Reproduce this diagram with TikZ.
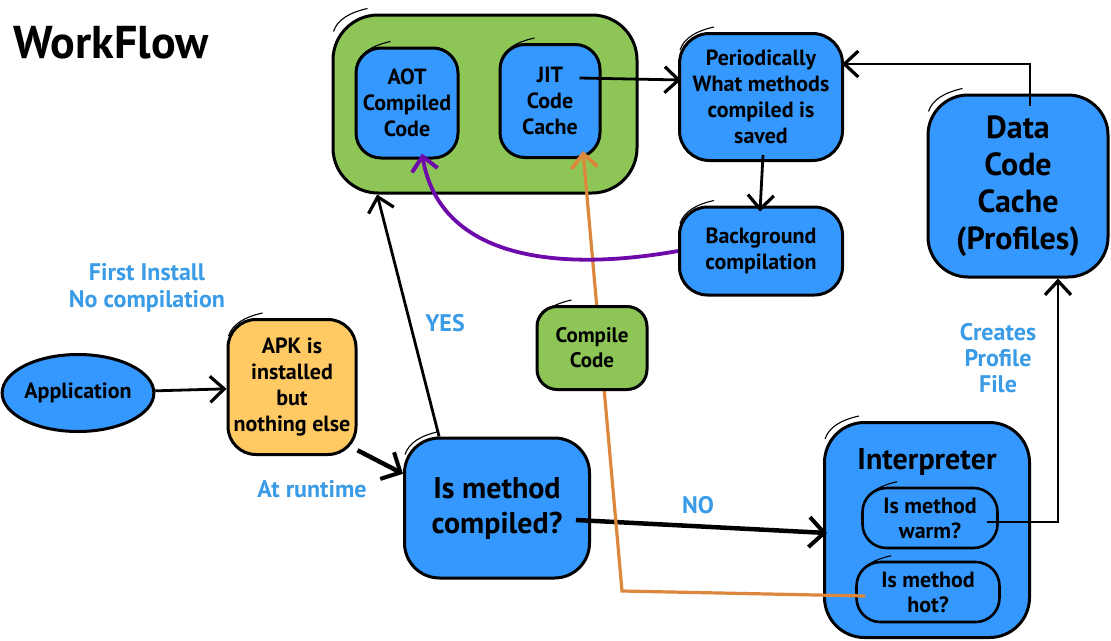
\documentclass[tikz,border=0pt]{standalone}
\usepackage{fontspec}
\setmainfont{PT Sans}
\usetikzlibrary{arrows.meta,calc,shapes.geometric}
\definecolor{boxblue}{RGB}{52,152,255}
\definecolor{boxgreen}{RGB}{141,198,86}
\definecolor{boxyellow}{RGB}{255,201,100}
\definecolor{lblblue}{RGB}{58,155,230}
\definecolor{purp}{RGB}{110,10,170}
\definecolor{orng}{RGB}{220,135,60}
\newcommand\sktick[1]{\draw[line width=1.1pt] ($(#1.north west)+(2,18)$) .. controls ($(#1.north west)+(6,6)$) and ($(#1.north west)+(18,-1)$) .. ($(#1.north west)+(36,-5)$);}
\begin{document}
\begin{tikzpicture}[x=1pt,y=-1pt,
  box/.style={draw=black, line width=3pt, fill=boxblue, rounded corners=#1, align=center,
    font=\bfseries\fontsize{22}{26}\selectfont, inner sep=0pt},
  box/.default=25pt,
  lbl/.style={text=lblblue, align=center, font=\bfseries\fontsize{24}{27}\selectfont},
  arr/.style={draw, line width=2.8pt, -{Straight Barb[length=14pt,width=26pt,line width=3.2pt]}},
  thickarr/.style={draw, line width=4.5pt, -{Straight Barb[length=15pt,width=30pt,line width=4pt]}}
]
\useasboundingbox (0,0) rectangle (1111,640);
\fill[white] (0,0) rectangle (1111,640);

\node[anchor=west, font=\bfseries\fontsize{46}{50}\selectfont] (title) at (10,43) {WorkFlow};

% containers
\node[box=45pt, fill=boxgreen, minimum width=304pt, minimum height=178pt] (green) at (485,104) {};
\node[box, minimum width=102pt, minimum height=110pt] (aot) at (407,103) {AOT\\Compiled\\Code};
\node[box, minimum width=100pt, minimum height=113pt] (jit) at (550,101) {JIT\\Code\\Cache};
\node[box=30pt, minimum width=163pt, minimum height=127pt] (period) at (761,97) {Periodically\\What methods\\compiled is\\saved};
\node[box=28pt, minimum width=163pt, minimum height=88pt] (bg) at (761,251) {Background\\compilation};
\node[box=40pt, minimum width=180pt, minimum height=182pt, font=\bfseries\fontsize{32}{37}\selectfont] (data) at (1018,186) {Data\\Code\\Cache\\(Profiles)};
\node[draw=black, line width=3pt, fill=boxblue, ellipse, minimum width=147pt, minimum height=77pt, inner sep=0pt, font=\bfseries\fontsize{22}{26}\selectfont] (app) at (78,393) {Application};
\node[box=28pt, fill=boxyellow, minimum width=128pt, minimum height=135pt] (apk) at (292,387) {APK is\\installed\\but\\nothing else};
\node[box=35pt, minimum width=185pt, minimum height=140pt, font=\bfseries\fontsize{30}{35}\selectfont] (ismc) at (497,508) {Is method\\compiled?};
\node[box=40pt, minimum width=205pt, minimum height=215pt] (interp) at (927,530) {};
\node[font=\bfseries\fontsize{30}{34}\selectfont] (interpt) at (927,462) {Interpreter};
\node[box=24pt, line width=2.6pt, minimum width=135pt, minimum height=60pt, font=\bfseries\fontsize{22}{25}\selectfont] (warm) at (930,518) {Is method\\warm?};
\node[box=24pt, line width=2.6pt, minimum width=143pt, minimum height=60pt, font=\bfseries\fontsize{22}{25}\selectfont] (hot) at (928,592) {Is method\\hot?};

% labels
\node[lbl] (l1) at (147,288) {First Install\\No compilation};
\node[lbl] (l2) at (445,323) {YES};
\node[lbl] (l3) at (312,489) {At runtime};
\node[lbl] (l4) at (698,505) {NO};
\node[lbl, font=\bfseries\fontsize{24}{26}\selectfont] (l5) at (998,358) {Creates\\Profile\\File};

% connectors
\draw[arr] (app) -- (apk);
\draw[thickarr] (apk.-44) -- (ismc.160);
\draw[arr] (ismc.129) -- (green.-140);
\draw[thickarr] ($(ismc.east)+(-15,12)$) -- ($(interp.west)+(4,3)$);
\coordinate (obend) at (622,591);
\draw[draw=orng, line width=3.2pt, -{Straight Barb[length=14pt,width=26pt,line width=3.8pt,color=orng]}] ($(hot.west)+(10,4)$) -- (obend) -- ($(jit.south)+(33,-8)$);
\draw[draw=purp, line width=3.8pt, -{Straight Barb[length=14pt,width=26pt,line width=4pt,color=purp]}] (bg.west) .. controls (560,272) and (440,260) .. ($(aot.south)+(15,-6)$);
\draw[arr] ($(jit.east)+(-22,-23)$) -- ($(period.west)+(3,-17)$);
\draw[arr] ($(period.south)+(2,-7)$) -- ($(bg.north)+(-1,6)$);
\draw[arr] ($(data.north)+(12,12)$) |- ($(period.east)+(-2,-33)$);
\draw[arr] ($(warm.east)+(-12,4)$) -| ($(data.south)+(40,0)$);

\node[box=20pt, fill=boxgreen, minimum width=110pt, minimum height=83pt, font=\bfseries\fontsize{21}{25}\selectfont] (compile) at (592,348) {Compile\\Code};

% sketch ticks
\sktick{green}\sktick{aot}\sktick{jit}\sktick{period}\sktick{bg}\sktick{data}
\sktick{apk}\sktick{ismc}\sktick{interp}\sktick{warm}\sktick{hot}\sktick{compile}
\end{tikzpicture}
\end{document}
